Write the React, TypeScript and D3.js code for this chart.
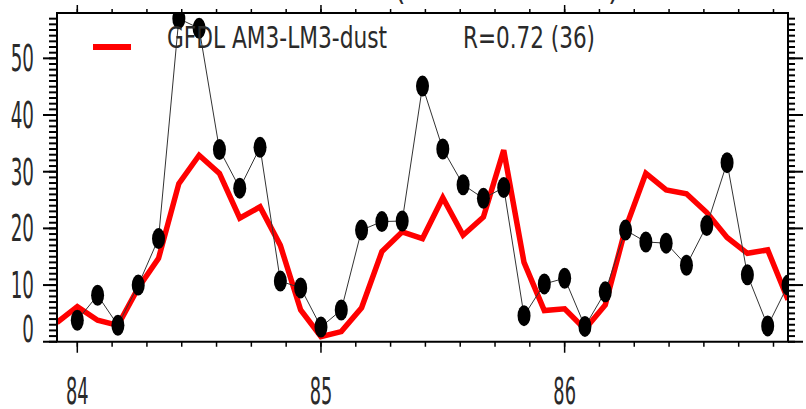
import React from 'react';
import * as d3 from 'd3';

// month index 0 = Jan 1984
const obsMonths = d3.range(0, 36);
const obsValues = [3.8, 8.2, 2.9, 10.0, 18.2, 57.0, 55.3, 33.9, 27.1, 34.3, 10.7, 9.5,
  2.6, 5.6, 19.7, 21.2, 21.3, 45.1, 34.0, 27.7, 25.3, 27.2, 4.6, 10.2,
  11.2, 2.7, 8.8, 19.7, 17.6, 17.4, 13.5, 20.5, 31.6, 11.8, 2.8, 10.0];

// model starts at Dec 1983
const modelMonths = d3.range(-1, 36);
const modelValues = [3.4, 6.2, 3.8, 2.9, 9.5, 14.7, 27.9, 32.9, 29.7, 21.8, 23.8, 17.0,
  5.6, 0.9, 1.8, 6.0, 15.9, 19.4, 18.2, 25.4, 18.8, 22.0, 33.8, 14.0,
  5.5, 5.8, 2.2, 6.5, 20.0, 29.7, 26.8, 26.1, 22.8, 18.4, 15.6, 16.2, 7.4];

const yearTicks = [0, 12, 24];
const yearLabels = ['84', '85', '86'];
const yMajor = [0, 10, 20, 30, 40, 50];
const legendName = 'GFDL AM3-LM3-dust';
const legendStat = 'R=0.72 (36)';

const W = 806, H = 409;
const left = 57, right = 788, top = 13, bottom = 341.75;
const font = '"DejaVu Sans ExtraLight", "DejaVu Sans Condensed", "DejaVu Sans", sans-serif';
const txt = '#2a2a2a';

export default function App() {
  const x = d3.scaleLinear().domain([-1, 35]).range([left, right]);
  const y = d3.scaleLinear().domain([0, 58]).range([bottom, top]);

  const xMinor = d3.range(0, 35.01, 12 / 7);
  const yMinor = d3.range(0, 58, 1);

  const obsLine = d3.line<number>().x((d, i) => x(obsMonths[i])).y(d => y(d));
  const modelLine = d3.line<number>().x((d, i) => x(modelMonths[i])).y(d => y(d));

  return (
    <svg width={W} height={H} style={{ position: 'absolute', left: 0, top: 0, background: '#fff' }}>
      <defs>
        <clipPath id="plot">
          <rect x={left} y={top} width={right - left} height={bottom - top} />
        </clipPath>
      </defs>

      {/* title, mostly above the picture */}
      <text x={395} y={0} fontFamily={font} fontSize={30} fill={txt}>(</text>
      <text x={608} y={0} fontFamily={font} fontSize={30} fill={txt}>)</text>

      <g clipPath="url(#plot)">
        <path d={modelLine(modelValues) || ''} fill="none" stroke="#f00" strokeWidth={5.5} strokeLinejoin="miter" />
        <path d={obsLine(obsValues) || ''} fill="none" stroke="#333" strokeWidth={1} />
        {obsValues.map((v, i) => (
          <ellipse key={i} cx={x(obsMonths[i])} cy={y(v)} rx={6.5} ry={10.5} fill="#000" />
        ))}
      </g>

      {/* frame */}
      <rect x={left} y={top} width={right - left} height={bottom - top} fill="none" stroke="#000" strokeWidth={2} />

      {/* x ticks */}
      {xMinor.map((m, i) => (
        <g key={'xm' + i}>
          <line x1={x(m)} x2={x(m)} y1={bottom} y2={bottom + 5} stroke="#000" strokeWidth={1.5} />
          <line x1={x(m)} x2={x(m)} y1={top} y2={top - 4} stroke="#000" strokeWidth={1.5} />
        </g>
      ))}
      {yearTicks.map((m, i) => (
        <g key={'xM' + i}>
          <line x1={x(m)} x2={x(m)} y1={bottom} y2={bottom + 11} stroke="#000" strokeWidth={1.5} />
          <line x1={x(m)} x2={x(m)} y1={top} y2={top - 8} stroke="#000" strokeWidth={1.5} />
          <text transform={`translate(${x(m)},${404}) scale(0.52,1)`} textAnchor="middle"
            fontFamily={font} fontSize={38} fill={txt}>{yearLabels[i]}</text>
        </g>
      ))}

      {/* y ticks */}
      {yMinor.map(v => (
        <g key={'ym' + v}>
          <line x1={left - 8} x2={left} y1={y(v)} y2={y(v)} stroke="#000" strokeWidth={2} />
          <line x1={right} x2={right + 7} y1={y(v)} y2={y(v)} stroke="#000" strokeWidth={2} />
        </g>
      ))}
      {yMajor.map(v => (
        <g key={'yM' + v}>
          <line x1={left - 14} x2={left} y1={y(v)} y2={y(v)} stroke="#000" strokeWidth={2} />
          <line x1={right} x2={right + 15} y1={y(v)} y2={y(v)} stroke="#000" strokeWidth={2} />
          <text transform={`translate(${34},${v === 0 ? y(v) : y(v) + 13}) scale(0.55,1)`} textAnchor="end"
            fontFamily={font} fontSize={37} fill={txt}>{v}</text>
        </g>
      ))}

      {/* legend */}
      <line x1={93} x2={131} y1={47} y2={47} stroke="#f00" strokeWidth={6} />
      <text x={167} y={48} textLength={220} lengthAdjust="spacingAndGlyphs"
        fontFamily={font} fontSize={31} fill={txt}>{legendName}</text>
      <text x={463} y={48} textLength={132} lengthAdjust="spacingAndGlyphs"
        fontFamily={font} fontSize={31} fill={txt}>{legendStat}</text>
    </svg>
  );
}
